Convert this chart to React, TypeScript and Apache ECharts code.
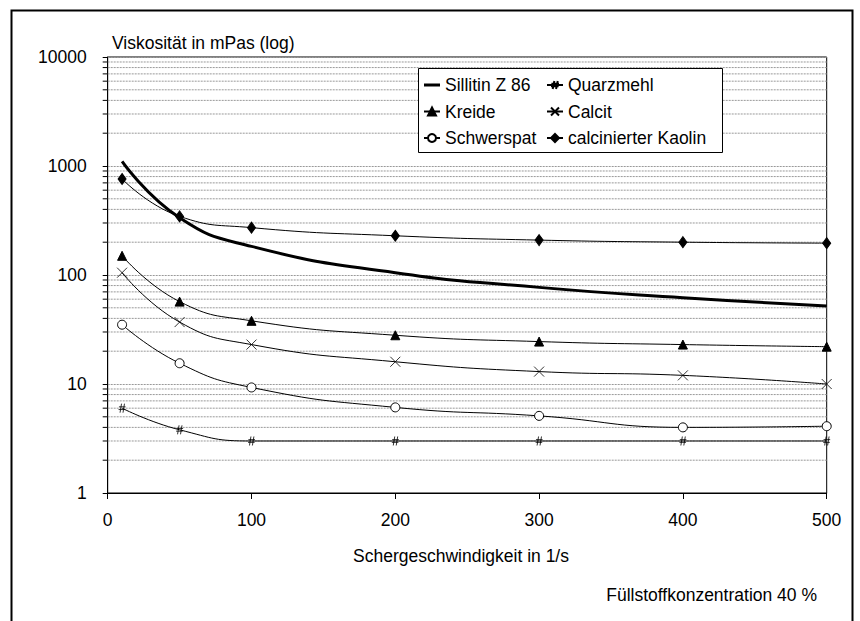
import React, { useEffect, useRef } from "react";
import * as echarts from "echarts";

const xValues = [10, 50, 100, 200, 300, 400, 500];
const sillitin = [1100, 335, 183, 105, 77, 62, 52];
const quarzmehl = [6, 3.8, 3, 3, 3, 3, 3];
const kreide = [150, 57, 38, 28, 24.5, 23, 22];
const calcit = [105, 37, 23, 16, 13, 12, 10];
const schwerspat = [35, 15.5, 9.3, 6.1, 5.1, 4.0, 4.1];
const kaolin = [760, 345, 272, 229, 209, 200, 196];
const minorValues = [
  2, 3, 4, 5, 6, 7, 8, 9,
  20, 30, 40, 50, 60, 70, 80, 90,
  200, 300, 400, 500, 600, 700, 800, 900,
  2000, 3000, 4000, 5000, 6000, 7000, 8000, 9000,
];
const xTitle = "Schergeschwindigkeit in 1/s";
const yTitle = "Viskosität in mPas (log)";
const note = "Füllstoffkonzentration 40 %";

const FONT = "'Liberation Sans', Arial, sans-serif";
const FS = 17.5;

const pair = (ys: number[]) => xValues.map((x, i) => [x, ys[i]]);

export default function App() {
  const ref = useRef<HTMLDivElement>(null);
  useEffect(() => {
    if (!ref.current) return;
    const chart = echarts.init(ref.current, null, { renderer: "svg" });
    const thin = { color: "#000", width: 1 };
    const itemBlack = { color: "#000", borderColor: "#000", borderWidth: 1 };
    const legendBase = {
      orient: "vertical",
      top: 76,
      padding: 0,
      itemWidth: 16,
      itemHeight: 10,
      itemGap: 8.5,
      z: 20,
      textStyle: { fontSize: FS, fontFamily: FONT, color: "#000", lineHeight: FS },
    };
    const option: any = {
      animation: false,
      backgroundColor: "#fff",
      textStyle: { fontFamily: FONT },
      grid: {
        left: 107.7,
        right: 33.3,
        top: 57,
        bottom: 128,
        show: true,
        borderColor: "#000",
        borderWidth: 1,
      },
      xAxis: {
        type: "value",
        min: 0,
        max: 500,
        interval: 100,
        axisLine: { lineStyle: { color: "#000", width: 1 } },
        axisTick: { show: true, length: 6, lineStyle: { color: "#000" } },
        axisLabel: { color: "#000", fontSize: FS, fontFamily: FONT, margin: 18 },
        splitLine: { show: false },
      },
      yAxis: {
        type: "log",
        logBase: 10,
        min: 1,
        max: 10000,
        axisLine: { show: true, lineStyle: { color: "#000", width: 1 } },
        axisTick: { show: true, length: 5, lineStyle: { color: "#000" } },
        axisLabel: {
          color: "#000",
          fontSize: FS,
          fontFamily: FONT,
          margin: 21,
          formatter: (v: number) => String(Math.round(v)),
        },
        splitLine: { show: true, lineStyle: { color: "#999", width: 1, type: [2, 1] } },
      },
      legend: [
        {
          ...legendBase,
          left: 423,
          data: [
            { name: "Sillitin Z 86", icon: "path://M0,0L16,0L16,3L0,3Z" },
            "Kreide",
            "Schwerspat",
          ],
        },
        {
          ...legendBase,
          left: 546,
          data: ["Quarzmehl", "Calcit", "calcinierter Kaolin"],
        },
      ],
      graphic: [
        {
          type: "rect",
          z: 10,
          shape: { x: 11.5, y: 10.5, width: 841, height: 700 },
          style: { fill: "none", stroke: "#000", lineWidth: 2 },
          silent: true,
        },
        {
          type: "rect",
          z: 10,
          shape: { x: 418.5, y: 68.5, width: 304, height: 84 },
          style: { fill: "#fff", stroke: "#000", lineWidth: 1 },
          silent: true,
        },
        {
          type: "text",
          z: 10,
          x: 112,
          y: 43,
          style: { text: yTitle, font: `${FS}px ${FONT}`, fill: "#000", textAlign: "left", textVerticalAlign: "middle" },
        },
        {
          type: "text",
          z: 10,
          x: 461,
          y: 556,
          style: { text: xTitle, font: `${FS}px ${FONT}`, fill: "#000", textAlign: "center", textVerticalAlign: "middle" },
        },
        {
          type: "text",
          z: 10,
          x: 817,
          y: 595,
          style: { text: note, font: `${FS}px ${FONT}`, fill: "#000", textAlign: "right", textVerticalAlign: "middle" },
        },
      ],
      series: [
        {
          type: "custom",
          name: "minor",
          silent: true,
          clip: false,
          z: 1,
          data: minorValues.map((v) => [0, v]),
          renderItem: (params: any, api: any) => {
            const v = api.value(1);
            const p0 = api.coord([0, v]);
            const p1 = api.coord([500, v]);
            return {
              type: "group",
              children: [
                {
                  type: "line",
                  shape: { x1: p0[0], y1: p0[1], x2: p1[0], y2: p1[1] },
                  style: { stroke: "#999", lineWidth: 1, lineDash: [2, 1] },
                },
                {
                  type: "line",
                  shape: { x1: p0[0] - 5, y1: p0[1], x2: p0[0], y2: p0[1] },
                  style: { stroke: "#000", lineWidth: 1 },
                },
              ],
            };
          },
        },
        {
          name: "Sillitin Z 86",
          type: "line",
          smooth: 0.5,
          symbol: "none",
          showSymbol: false,
          data: pair(sillitin),
          lineStyle: { color: "#000", width: 3 },
          itemStyle: { color: "#000" },
          z: 3,
        },
        {
          name: "Quarzmehl",
          type: "line",
          smooth: 0.5,
          symbol: "path://M4,0L2,10M8,0L6,10M0.5,3.5L9.5,3.5M0,6.5L9,6.5",
          symbolSize: [7, 9],
          data: pair(quarzmehl),
          lineStyle: thin,
          itemStyle: { color: "#000", borderColor: "#000", borderWidth: 0.8 },
          z: 3,
        },
        {
          name: "Kreide",
          type: "line",
          smooth: 0.5,
          symbol: "triangle",
          symbolSize: 9,
          data: pair(kreide),
          lineStyle: thin,
          itemStyle: itemBlack,
          z: 3,
        },
        {
          name: "Calcit",
          type: "line",
          smooth: 0.5,
          symbol: "path://M0,0L10,10M10,0L0,10",
          symbolSize: 10,
          data: pair(calcit),
          lineStyle: thin,
          itemStyle: { color: "#000", borderColor: "#000", borderWidth: 0.8 },
          z: 3,
        },
        {
          name: "Schwerspat",
          type: "line",
          smooth: 0.5,
          symbol: "circle",
          symbolSize: 9,
          data: pair(schwerspat),
          lineStyle: thin,
          itemStyle: { color: "#fff", borderColor: "#000", borderWidth: 1 },
          z: 3,
        },
        {
          name: "calcinierter Kaolin",
          type: "line",
          smooth: 0.5,
          symbol: "diamond",
          symbolSize: [8, 11],
          data: pair(kaolin),
          lineStyle: thin,
          itemStyle: itemBlack,
          z: 3,
        },
      ],
    };
    chart.setOption(option);
    return () => chart.dispose();
  }, []);
  return (
    <div
      ref={ref}
      style={{ position: "absolute", left: 0, top: 0, width: 860, height: 621 }}
    />
  );
}
